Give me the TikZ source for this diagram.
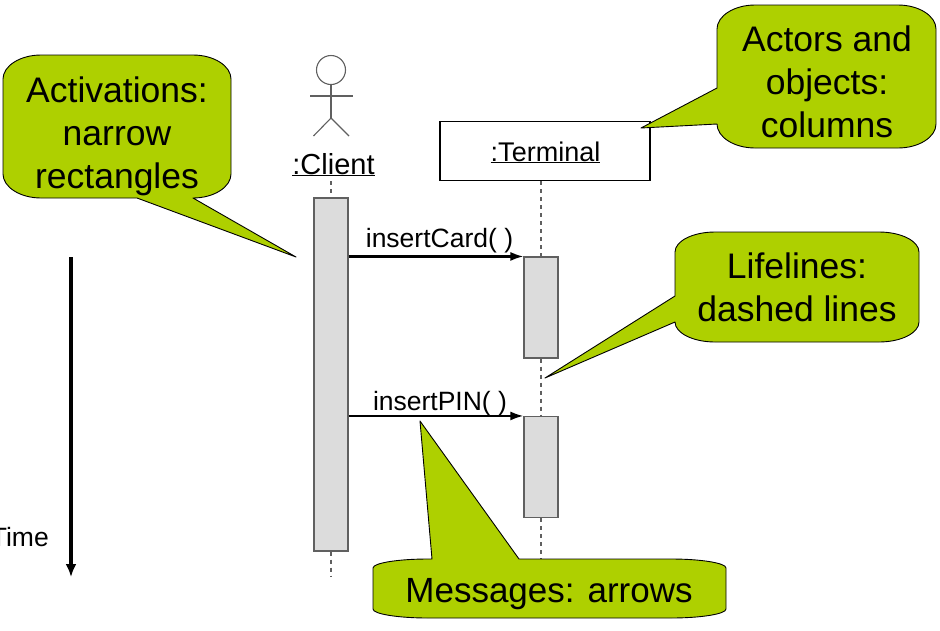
\documentclass[tikz,border=0pt]{standalone}
\usepackage{fontspec}
\setmainfont{Liberation Sans}
\usepackage{tikz}
\usetikzlibrary{arrows.meta,positioning}
\definecolor{notegreen}{HTML}{AED000}
\definecolor{barfill}{HTML}{DCDCDC}
\definecolor{linegray}{HTML}{606060}
\tikzset{
  note/.style={draw=black, fill=notegreen, line width=0.9pt, line join=round},
  notetext/.style={align=center, font=\fontsize{35.5}{43}\selectfont, inner sep=0pt},
  bar/.style={draw=linegray, fill=barfill, line width=1.1pt, minimum width=34pt, inner sep=0pt},
  lifeline/.style={draw=linegray, line width=1.2pt, dash pattern=on 4pt off 4pt},
  msg/.style={-{Latex[length=13pt,width=9pt]}, line width=2.2pt},
  msgtext/.style={font=\fontsize{26.5}{30}\selectfont, inner sep=0pt},
  stick/.style={draw=linegray, line width=1.1pt}
}
\begin{document}
\begin{tikzpicture}[x=1pt,y=-1pt]
  \useasboundingbox (0,0) rectangle (940,630);
  % Lifelines
  \node[bar, minimum height=353pt] (clientbar) at (331,374.5) {};
  \node[bar, minimum height=101pt] (cardbar) at (541,307.5) {};
  \node[bar, minimum height=101pt] (pinbar) at (541,467) {};
  \node[draw=black, line width=1.1pt, minimum width=210pt, minimum height=59pt, inner sep=0pt] (terminal) at (545,151) {};
  \node[font=\fontsize{27}{32}\selectfont, inner sep=0pt, anchor=base] (terminaltext) at (545.5,161) {\underline{:Terminal}};
  \node[font=\fontsize{29}{34}\selectfont, inner sep=0pt, anchor=base] (clienttext) at (333.5,174) {\underline{:Client}};
  \coordinate (clientend) at (331,577);
  \coordinate (clienttop) at (331,181);
  \coordinate (pinend) at (541,560);
  \draw[lifeline] (clienttop) -- (clientbar.north);
  \draw[lifeline] (clientbar.south) -- (clientend);
  \draw[lifeline] (terminal.south -| cardbar.north) -- (cardbar.north);
  \draw[lifeline] (cardbar.south) -- (pinbar.north);
  \draw[lifeline] (pinbar.south) -- (pinend);

  % Actor
  \node[circle, stick, minimum size=29pt, inner sep=0pt] (head) at (331,70) {};
  \coordinate (hip) at (331,118);
  \draw[stick] (head.south) -- (hip);
  \draw[stick] (310,96) -- (352.5,96);
  \draw[stick] (313.5,136) -- (hip) -- (349,136);

  % Messages
  \draw[msg] (clientbar.east |- cardbar.north) -- (cardbar.north west);
  \draw[msg] (clientbar.east |- pinbar.north) -- (pinbar.north west);
  \node[msgtext, anchor=base] (cardtext) at (439.5,247) {insertCard( )};
  \node[msgtext, anchor=base] (pintext) at (440,410) {insertPIN( )};

  % Time
  \coordinate (timetop) at (71,257);
  \coordinate (timeend) at (71,577);
  \draw[-{Latex[length=13pt,width=11pt]}, line width=3.6pt] (timetop) -- (timeend);
  \node[msgtext, anchor=base east] (timetext) at (49,546) {Time};

  % Notes
  \draw[note] (41,55) -- (193,55) .. controls (214,55) and (231,66) .. (231,79)
    -- (231,174) .. controls (231,187) and (214,198) .. (193,198)
    -- (296,257) -- (137,198) -- (41,198) .. controls (20,198) and (3,187) .. (3,174)
    -- (3,79) .. controls (3,66) and (20,55) .. (41,55) -- cycle;
  \node[notetext] (activnote) at (117,136) {Activations:\\narrow\\rectangles};

  \draw[note] (755,5) -- (898,5) .. controls (919,5) and (936,16) .. (936,29)
    -- (936,124) .. controls (936,137) and (919,148) .. (898,148)
    -- (755,148) .. controls (734,148) and (717,137) .. (717,124)
    -- (641,128) -- (717,88) -- (717,29) .. controls (717,16) and (734,5) .. (755,5) -- cycle;
  \node[notetext] (actornote) at (827,82) {Actors and\\objects:\\columns};

  \draw[note] (715,232) -- (879,232) .. controls (901,232) and (919,241) .. (919,252)
    -- (919,322) .. controls (919,333) and (901,342) .. (879,342)
    -- (715,342) .. controls (693,342) and (675,333) .. (675,322)
    -- (545,378) -- (675,296) -- (675,252) .. controls (675,241) and (693,232) .. (715,232) -- cycle;
  \node[notetext] (lifenote) at (797,287) {Lifelines:\\dashed lines};

  \draw[note] (432,559) -- (420,421) -- (519,559) -- (671,559)
    .. controls (701,559) and (726,563) .. (726,568)
    -- (726,609) .. controls (726,614) and (701,618) .. (671,618)
    -- (428,618) .. controls (398,618) and (373,614) .. (373,609)
    -- (373,568) .. controls (373,563) and (398,559) .. (428,559) -- cycle;
  \node[notetext, font=\fontsize{35}{43}\selectfont] (msgnote) at (549,594) {Messages: arrows};
\end{tikzpicture}
\end{document}
